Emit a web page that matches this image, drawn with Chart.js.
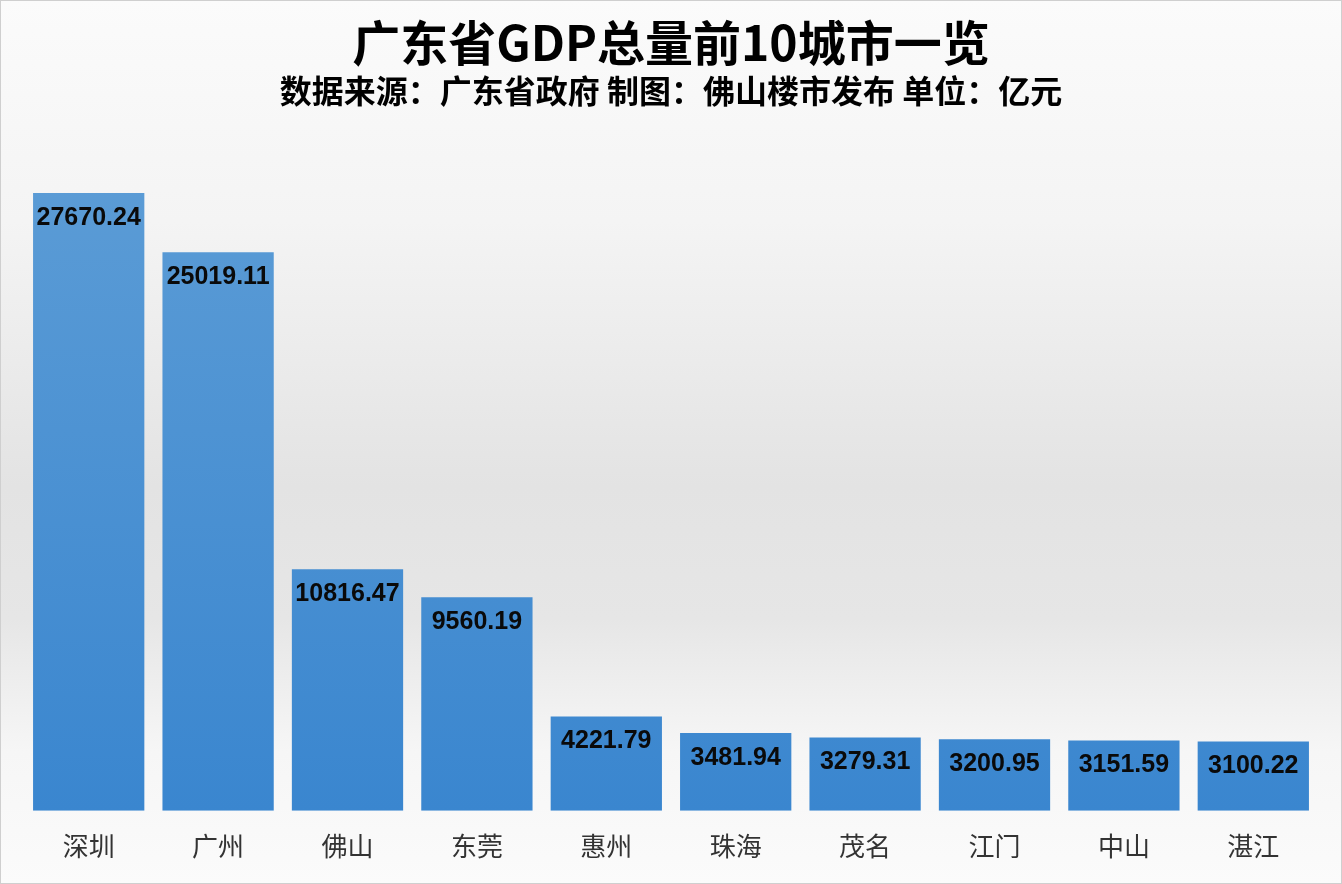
<!DOCTYPE html>
<html><head><meta charset="utf-8">
<script src="https://cdn.jsdelivr.net/npm/chart.js@4"></script>
<style>html,body{margin:0;padding:0;background:#fff}#w{width:1342px;height:884px;position:relative}</style>
</head><body><div id="w"><canvas id="c" width="1342" height="884"></canvas></div>
<script>
const categories = ['深圳','广州','佛山','东莞','惠州','珠海','茂名','江门','中山','湛江'];
const gdpValues = [27670.24, 25019.11, 10816.47, 9560.19, 4221.79, 3481.94, 3279.31, 3200.95, 3151.59, 3100.22];
const titleText = '广东省GDP总量前10城市一览';
const subtitleText = '数据来源：广东省政府 制图：佛山楼市发布 单位：亿元';

const FONT = "'Noto Sans CJK SC', 'Noto Sans', sans-serif";

const bgPlugin = {
  id: 'bg',
  beforeDraw(chart) {
    const {ctx, width, height} = chart;
    const g = ctx.createLinearGradient(0, 0, 0, height);
    g.addColorStop(0, '#fbfbfb');
    g.addColorStop(0.25, '#f4f4f4');
    g.addColorStop(0.55, '#e3e3e3');
    g.addColorStop(0.7, '#e6e6e6');
    g.addColorStop(0.85, '#f6f6f6');
    g.addColorStop(1, '#fbfbfb');
    ctx.save();
    ctx.fillStyle = g;
    ctx.fillRect(0, 0, width, height);
    ctx.strokeStyle = '#cfcfcf';
    ctx.lineWidth = 1;
    ctx.strokeRect(0.5, 0.5, width - 1, height - 1);
    ctx.restore();
  }
};

const labelPlugin = {
  id: 'vals',
  afterDatasetsDraw(chart) {
    const {ctx} = chart;
    const meta = chart.getDatasetMeta(0);
    ctx.save();
    ctx.font = "bold 25px 'Liberation Sans', Arial, sans-serif";
    ctx.fillStyle = '#0a0a0a';
    ctx.textAlign = 'center';
    ctx.textBaseline = 'middle';
    meta.data.forEach((bar, i) => {
      ctx.fillText(gdpValues[i].toFixed(2), bar.x, bar.y + 25);
    });
    ctx.restore();
  }
};

new Chart(document.getElementById('c'), {
  type: 'bar',
  data: {
    labels: categories,
    datasets: [{
      data: gdpValues,
      backgroundColor(ctx) {
        const ca = ctx.chart.chartArea;
        if (!ca) return '#4a90d6';
        const g = ctx.chart.ctx.createLinearGradient(0, ca.top, 0, ca.bottom);
        g.addColorStop(0, '#5d9dd6');
        g.addColorStop(1, '#3a86cf');
        return g;
      },
      borderWidth: 0,
      categoryPercentage: 0.86,
      barPercentage: 1.0
    }]
  },
  options: {
    responsive: false,
    animation: false,
    layout: {padding: {left: 24, right: 24, top: 0, bottom: 10}},
    plugins: {
      legend: {display: false},
      tooltip: {enabled: false},
      title: {
        display: true, text: titleText, color: '#000',
        font: {family: FONT, size: 48, weight: 'bold'},
        padding: {top: 14, bottom: 0}
      },
      subtitle: {
        display: true, text: subtitleText, color: '#000',
        font: {family: FONT, size: 32, weight: 'bold'},
        padding: {top: 0, bottom: 31}
      }
    },
    scales: {
      x: {
        grid: {display: false}, border: {display: false},
        ticks: {color: '#333', font: {family: FONT, size: 26}, padding: 12}
      },
      y: {display: false, min: 0, max: 30000}
    }
  },
  plugins: [bgPlugin, labelPlugin]
});
</script></body></html>
